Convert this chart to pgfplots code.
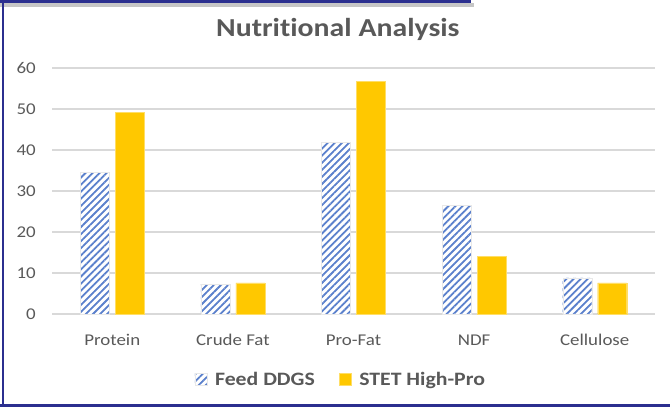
\documentclass[border=0pt]{standalone}
\usepackage{pgfplots}
\pgfplotsset{compat=1.18}
\usepackage{fontspec}
\setmainfont{Carlito}[FakeStretch=1.15, Ligatures=NoCommon]
\usetikzlibrary{patterns.meta}
\definecolor{hatchblue}{HTML}{5A80CC}
\definecolor{gold}{HTML}{FFC800}
\definecolor{txtgray}{HTML}{595959}
\definecolor{gridgray}{HTML}{D9D9D9}
\definecolor{navy}{HTML}{2B2F8F}
\begin{document}
\begin{tikzpicture}
\useasboundingbox (0,0) rectangle (670bp,407bp);
\begin{axis}[
  at={(52bp,93bp)}, anchor=south west,
  scale only axis, width=603bp, height=246bp,
  xmin=-0.5, xmax=4.5, ymin=0, ymax=60,
  ybar, bar width=29bp,
  xtick={0,...,4},
  xticklabels={Protein,Crude Fat,Pro-Fat,NDF,Cellulose},
  ytick={0,10,...,60},
  axis line style={draw=none},
  major tick length=0pt,
  ymajorgrids, grid style={color=gridgray, line width=1.3bp},
  /pgf/number format/assume math mode=true,
  tick label style={font=\fontsize{16.5}{18}\selectfont, text=txtgray},
  yticklabel style={anchor=east, inner sep=0pt, xshift=-16bp},
  xticklabel style={anchor=center, inner sep=0pt, yshift=-26bp},
  title={Nutritional Analysis},
  title style={at={(0.474,1)}, anchor=base, yshift=26bp, inner sep=0pt,
    font=\fontsize{26}{30}\selectfont\bfseries, text=txtgray},
  legend columns=2,
  legend style={at={(0.479,-0.265)}, anchor=center, draw=none, fill=none,
    font=\fontsize{19}{22}\selectfont\bfseries, text=txtgray,
    /tikz/every even column/.append style={column sep=22bp},
    /tikz/every odd column/.append style={column sep=6bp}},
  legend image code/.code={\draw[#1] (0bp,-6bp) rectangle (12bp,6bp);},
  clip=false,
]
\addplot[bar shift=-17.5bp, fill=white, draw=gridgray!60, line width=0.4bp,
  postaction={pattern={Lines[angle=45,distance=5bp,line width=1.8bp]}, pattern color=hatchblue}]
  coordinates {(0,34.5) (1,7.3) (2,41.8) (3,26.5) (4,8.8)};
\addlegendentry{Feed DDGS}
\addplot[bar shift=17.5bp, fill=gold, draw=gold!60!white, line width=0.4bp]
  coordinates {(0,49.2) (1,7.6) (2,56.8) (3,14.0) (4,7.6)};
\addlegendentry{STET High-Pro}
\end{axis}
% frame of the screenshot
\fill[gray!45] (0,400bp) rectangle (474bp,404bp);
\draw[navy, line width=2.2bp] (0,405.5bp) -- (470bp,405.5bp) -- (470bp,407bp);
\draw[navy, line width=2.4bp] (3bp,0) -- (3bp,407bp);
\draw[navy, line width=2bp] (0,1.5bp) -- (670bp,1.5bp);
\end{tikzpicture}
\end{document}
